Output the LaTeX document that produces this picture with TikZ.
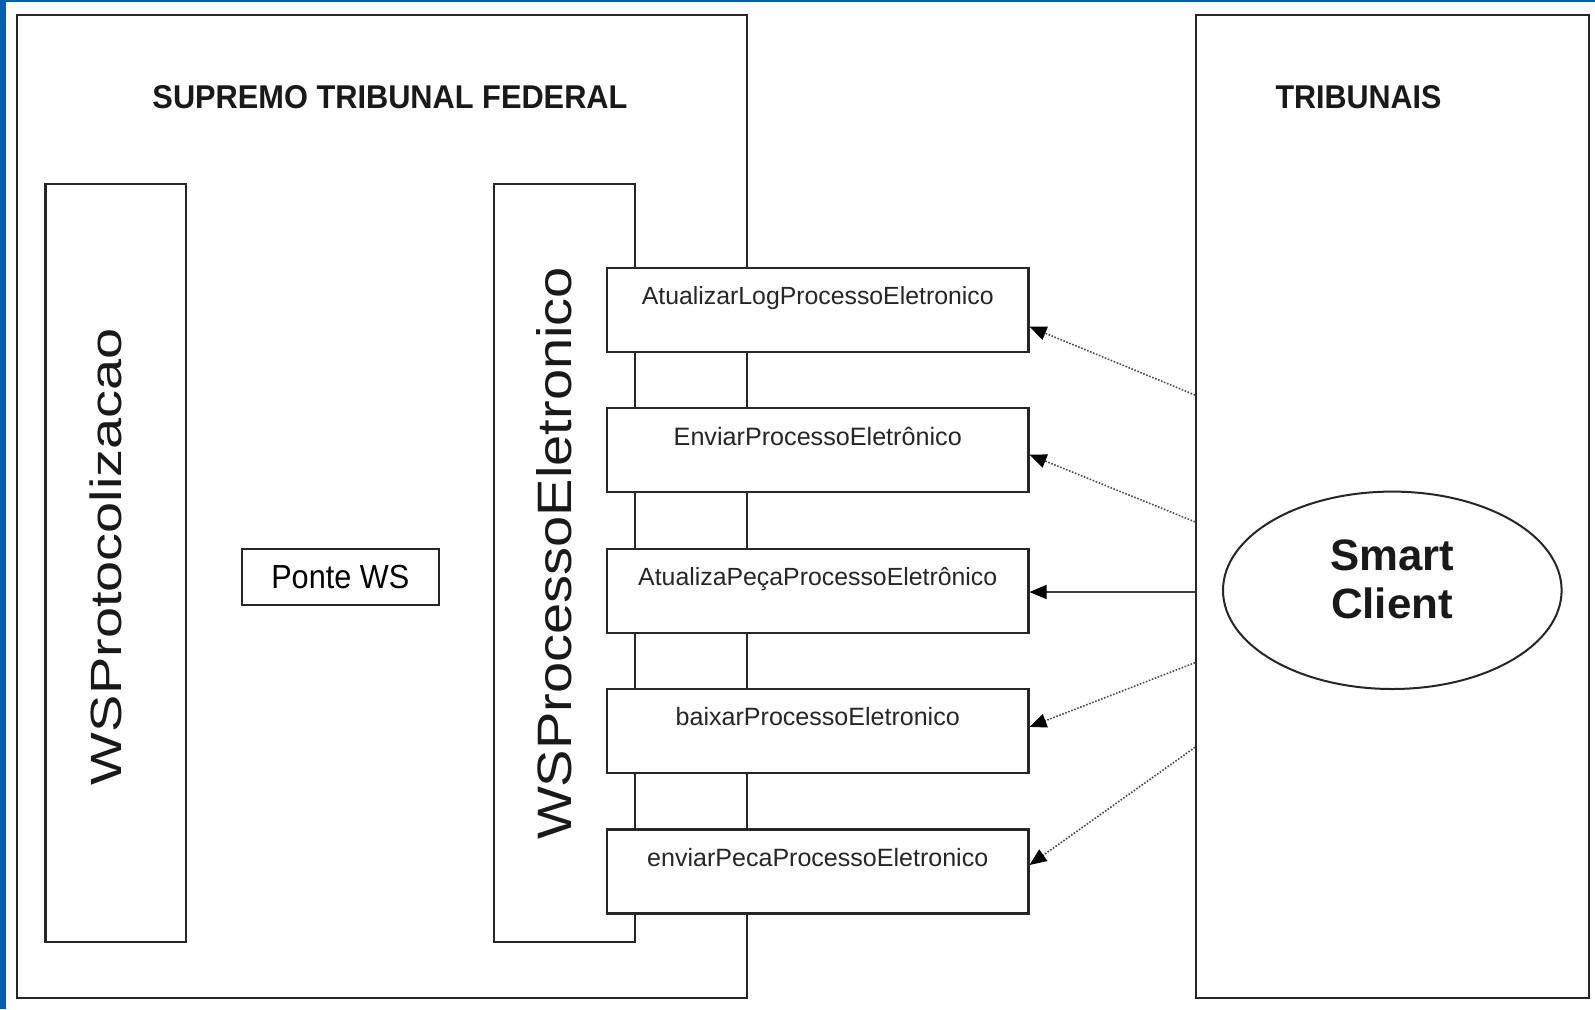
\documentclass[tikz,border=0pt]{standalone}
\usepackage{fontspec}
\setmainfont{Liberation Sans}
\usetikzlibrary{arrows.meta,shapes.geometric,calc}
\definecolor{edgeblue}{RGB}{10,92,168}
\begin{document}
\begin{tikzpicture}[x=1pt,y=-1pt,
  box/.style={draw=black!85, line width=2.2pt, fill=white, inner sep=0pt, anchor=north west},
  mbox/.style={box, minimum width=421.3pt, minimum height=84pt},
  mlabel/.style={anchor=base, inner sep=0pt, text=black!85},
  title/.style={anchor=base, inner sep=0pt, text=black!90},
  dotarrow/.style={draw=black!70, line width=1.6pt, dash pattern=on 1.6pt off 1.6pt,
    -{Triangle[length=17pt,width=14pt,color=black]}},
  solidarrow/.style={draw=black!75, line width=1.4pt,
    -{Triangle[length=17pt,width=14pt,color=black]}}]
\useasboundingbox (0,0) rectangle (1595,1009);
\fill[white] (0,0) rectangle (1595,1009);
\fill[edgeblue] (0,0) rectangle (6,1009);
\fill[edgeblue] (0,0) rectangle (1595,1.6);

% containers
\node[box, minimum width=730.3pt, minimum height=982.5pt] (stf) at (15.7,14) {};
\node[box, minimum width=393pt, minimum height=982.7pt] (trib) at (1195,14) {};
\node[title] (stft) at (390,108.3) {\resizebox{475pt}{23pt}{\bfseries SUPREMO TRIBUNAL FEDERAL}};
\node[title] (tribt) at (1358.5,108.3) {\resizebox{166pt}{23pt}{\bfseries TRIBUNAIS}};

% services
\node[box, minimum width=140.7pt, minimum height=758pt] (wsprot) at (44.3,182.7) {};
\node[box, minimum width=141pt, minimum height=758pt] (wsproc) at (493,182.7) {};
\node[title, rotate=90] (wsprott) at (121.7,556.5) {\resizebox{457pt}{31.7pt}{WSProtocolizacao}};
\node[title, rotate=90] (wsproct) at (571.7,553.4) {\resizebox{573pt}{35pt}{WSProcessoEletronico}};

\node[box, minimum width=197pt, minimum height=56.3pt] (ponte) at (240.7,547.7)
  {\resizebox{138pt}{23.3pt}{Ponte WS}};

% methods
\node[mbox] (m1) at (606,266.7) {};
\node[mbox] (m2) at (606,407.1) {};
\node[mbox] (m3) at (606,547.5) {};
\node[mbox] (m4) at (606,687.9) {};
\node[mbox] (m5) at (606,828.3) {};
\node[mlabel] (m1t) at ($(m1.north)+(0,38)$) {\resizebox{351.7pt}{!}{AtualizarLogProcessoEletronico}};
\node[mlabel] (m2t) at ($(m2.north)+(0,38)$) {\resizebox{288pt}{!}{EnviarProcessoEletrônico}};
\node[mlabel] (m3t) at ($(m3.north)+(0,38)$) {\resizebox{359pt}{!}{AtualizaPeçaProcessoEletrônico}};
\node[mlabel] (m4t) at ($(m4.north)+(0,38)$) {\resizebox{284pt}{!}{baixarProcessoEletronico}};
\node[mlabel] (m5t) at ($(m5.north)+(0,38)$) {\resizebox{341pt}{!}{enviarPecaProcessoEletronico}};

% smart client
\node[draw=black!85, line width=2pt, ellipse, inner sep=0pt, minimum width=338.6pt, minimum height=197.4pt] (sc) at (1392.3,590.3) {};
\node[title] (sc1) at (1392,570) {\resizebox{124pt}{30.7pt}{\bfseries Smart}};
\node[title] (sc2) at (1392,618.3) {\resizebox{122pt}{30.7pt}{\bfseries Client}};

% connectors
\coordinate (s1) at ($(trib.north west)+(0,381)$);
\coordinate (s2) at ($(trib.north west)+(0,507.8)$);
\coordinate (s3) at ($(trib.north west)+(0,578)$);
\coordinate (s4) at ($(trib.north west)+(0,648.7)$);
\coordinate (s5) at ($(trib.north west)+(0,733.3)$);
\coordinate (e1) at ($(m1.north east)+(0,60)$);
\coordinate (e2) at ($(m2.north east)+(0,47.6)$);
\coordinate (e3) at ($(m3.north east)+(0,44.5)$);
\coordinate (e4) at ($(m4.north east)+(0,39)$);
\coordinate (e5) at ($(m5.north east)+(0,36.7)$);
\draw[dotarrow] (s1) -- (e1);
\draw[dotarrow] (s2) -- (e2);
\draw[solidarrow] (s3) -- (e3);
\draw[dotarrow] (s4) -- (e4);
\draw[dotarrow] (s5) -- (e5);
\end{tikzpicture}
\end{document}
